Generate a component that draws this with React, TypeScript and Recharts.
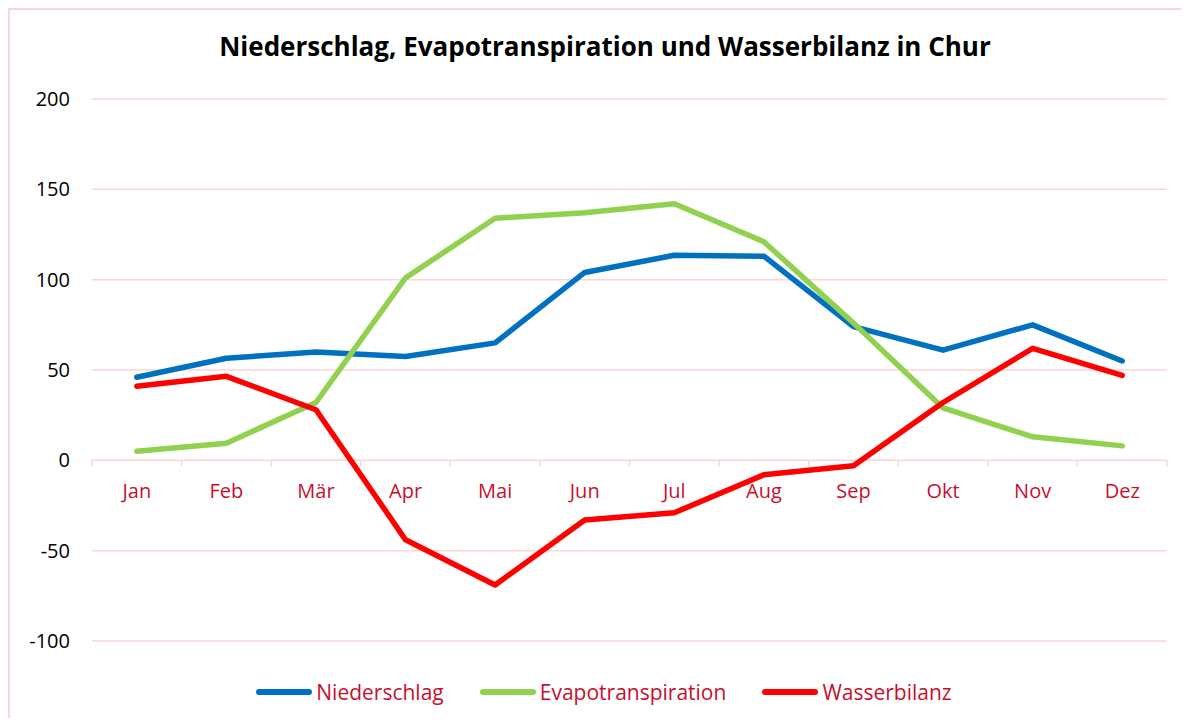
import {
  LineChart,
  Line,
  XAxis,
  YAxis,
  CartesianGrid,
  Legend,
} from "recharts";

const months = ["Jan", "Feb", "Mär", "Apr", "Mai", "Jun", "Jul", "Aug", "Sep", "Okt", "Nov", "Dez"];
const niederschlag = [46, 56.5, 60, 57.5, 65, 104, 113.5, 113, 74, 61, 75, 55];
const evapotranspiration = [5, 9.5, 32, 101, 134, 137, 142, 121, 76, 29, 13, 8];
const wasserbilanz = [41, 46.5, 28, -44, -69, -33, -29, -8, -3, 32, 62, 47];
const yTicks = [-100, -50, 0, 50, 100, 150, 200];

const series = [
  { key: "Niederschlag", color: "#0070C0" },
  { key: "Evapotranspiration", color: "#92D050" },
  { key: "Wasserbilanz", color: "#FF0000" },
];

const data = months.map((m, i) => ({
  month: m,
  Niederschlag: niederschlag[i],
  Evapotranspiration: evapotranspiration[i],
  Wasserbilanz: wasserbilanz[i],
}));

const FONT = "'Open Sans', Lato, sans-serif";
const GRID = "#FFD3D6";
const LABEL_RED = "#C8102E";

const W = 1179;
const H = 714;
const TOP = 89;
const BOTTOM = 83;
const LEFT = 82;
const RIGHT = 22;
const PLOT_W = W - LEFT - RIGHT;
const PLOT_H = H - TOP - BOTTOM;
const Y_MIN = -100;
const Y_MAX = 200;
const BAND = PLOT_W / months.length;

// month labels sit below the zero line, like Excel's crossing axis
const MonthTick = (props: any) => {
  const { x, y, payload, index } = props;
  const zeroY = y - (PLOT_H * (0 - Y_MIN)) / (Y_MAX - Y_MIN);
  return (
    <g>
      <line x1={x - BAND / 2} x2={x - BAND / 2} y1={zeroY} y2={zeroY + 6} stroke={GRID} strokeWidth={1.5} />
      {index === months.length - 1 && (
        <line x1={x + BAND / 2} x2={x + BAND / 2} y1={zeroY} y2={zeroY + 6} stroke={GRID} strokeWidth={1.5} />
      )}
      <text x={x} y={zeroY + 38} textAnchor="middle" fill={LABEL_RED} fontSize={20} fontFamily={FONT}>
        {payload.value}
      </text>
    </g>
  );
};

const LegendContent = () => (
  <div
    style={{
      display: "flex",
      justifyContent: "center",
      height: 30,
      alignItems: "center",
      paddingLeft: 31,
      fontFamily: FONT,
    }}
  >
    {series.map((s) => (
      <div key={s.key} style={{ display: "flex", alignItems: "center", margin: "0 18px" }}>
        <div style={{ width: 56, height: 6, borderRadius: 3, background: s.color, marginRight: 4 }} />
        <span style={{ color: LABEL_RED, fontSize: 21 }}>{s.key}</span>
      </div>
    ))}
  </div>
);

export default function App() {
  return (
    <div
      style={{
        position: "relative",
        width: 1181,
        height: 718,
        marginBottom: -8,
        boxSizing: "border-box",
        borderTop: `2px solid ${GRID}`,
        borderLeft: `2px solid ${GRID}`,
        background: "#fff",
        overflow: "hidden",
      }}
    >
      <div
        style={{
          position: "absolute",
          top: 18,
          left: 0,
          width: 1190,
          textAlign: "center",
          fontFamily: FONT,
          fontWeight: 700,
          fontSize: 26,
          color: "#000",
        }}
      >
        Niederschlag, Evapotranspiration und Wasserbilanz in Chur
      </div>
      <LineChart width={W} height={H} data={data} margin={{ top: TOP, right: RIGHT, bottom: 43, left: 0 }}>
        <CartesianGrid vertical={false} stroke={GRID} strokeWidth={1.5} />
        <XAxis
          dataKey="month"
          height={10}
          axisLine={false}
          tickLine={false}
          tickSize={0}
          tickMargin={0}
          tick={<MonthTick />}
          interval={0}
          padding={{ left: BAND / 2, right: BAND / 2 }}
        />
        <YAxis
          width={LEFT}
          domain={[Y_MIN, Y_MAX]}
          ticks={yTicks}
          axisLine={false}
          tickLine={false}
          tickSize={0}
          tickMargin={22}
          tick={{ fill: "#000", fontSize: 20, fontFamily: FONT }}
        />
        <Legend verticalAlign="bottom" content={<LegendContent />} wrapperStyle={{ bottom: 17 }} />
        {series.map((s) => (
          <Line
            key={s.key}
            dataKey={s.key}
            stroke={s.color}
            strokeWidth={5.5}
            strokeLinecap="round"
            strokeLinejoin="round"
            dot={false}
            type="linear"
            isAnimationActive={false}
          />
        ))}
      </LineChart>
    </div>
  );
}
